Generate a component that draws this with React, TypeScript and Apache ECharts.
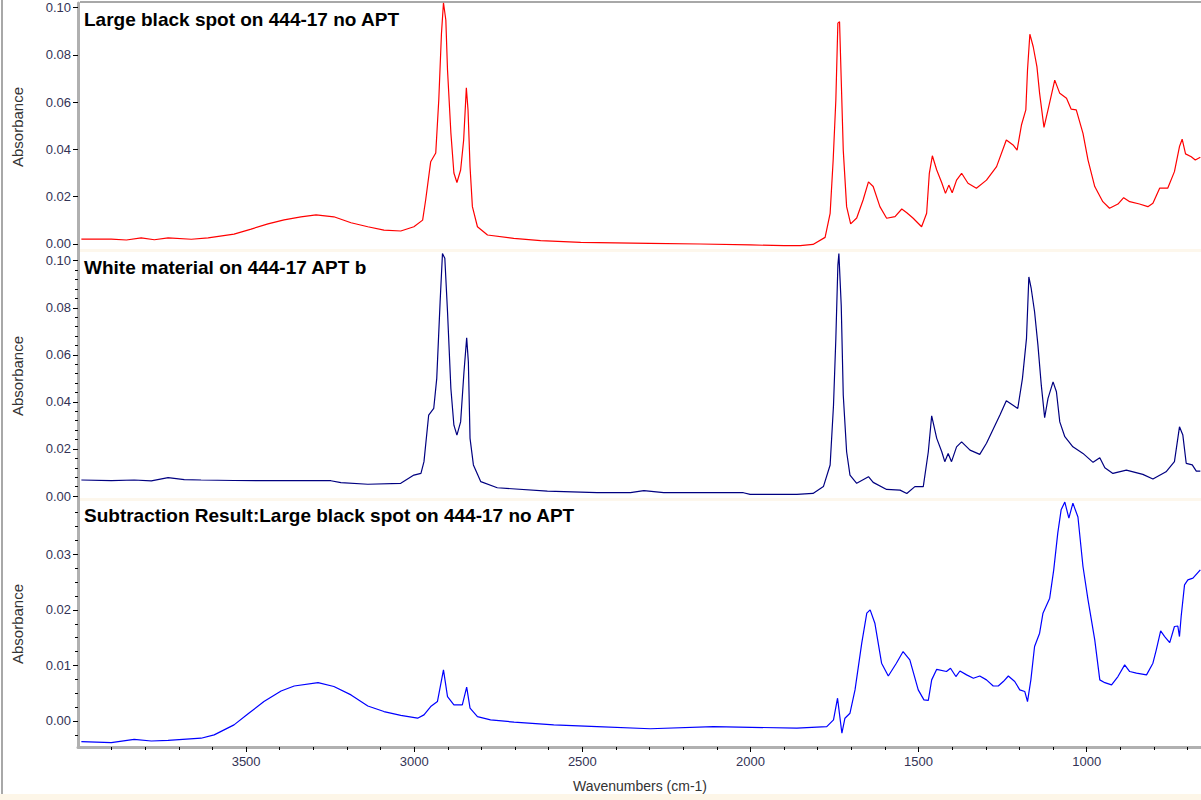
import React, { useEffect, useRef } from 'react';
import * as echarts from 'echarts';

// ---------- axis ranges / ticks ----------
const X_MIN = 660;
const X_MAX = 4000;
const X_MAJOR_TICKS = [3500, 3000, 2500, 2000, 1500, 1000];
const X_MINOR_TICKS = [3900, 3800, 3700, 3600, 3400, 3300, 3200, 3100, 2900, 2800, 2700, 2600, 2400, 2300, 2200, 2100, 1900, 1800, 1700, 1600, 1400, 1300, 1200, 1100, 900, 800, 700];

const Y1_RANGE = [-0.00296, 0.1019];
const Y2_RANGE = [-0.00127, 0.10412];
const Y3_RANGE = [-0.00468, 0.03995];
const Y12_MAJOR_TICKS = [0, 0.02, 0.04, 0.06, 0.08, 0.1];
const Y2_MINOR_TICKS = [0.004, 0.008, 0.012, 0.016, 0.024, 0.028, 0.032, 0.036, 0.044, 0.048, 0.052, 0.056, 0.064, 0.068, 0.072, 0.076, 0.084, 0.088, 0.092, 0.096];
const Y3_MAJOR_TICKS = [0, 0.01, 0.02, 0.03];
const Y3_MINOR_TICKS = [-0.0025, 0.0025, 0.005, 0.0075, 0.0125, 0.015, 0.0175, 0.0225, 0.025, 0.0275, 0.0325, 0.035, 0.0375];

// ---------- titles ----------
const TITLES = [
  'Large black spot on 444-17 no APT',
  'White material on 444-17 APT b',
  'Subtraction Result:Large black spot on 444-17 no APT',
];
const Y_NAME = 'Absorbance';
const X_NAME = 'Wavenumbers (cm-1)';

// ---------- spectrum 1 : Large black spot (red) ----------
const RED_WN = [3990, 3901, 3856, 3812, 3773, 3732, 3663, 3613, 3536, 3485, 3435, 3387, 3337, 3292, 3239, 3188, 3138, 3090, 3040, 3001, 2975, 2966, 2951, 2936, 2927, 2919, 2913, 2906, 2901, 2891, 2882, 2873, 2862, 2853, 2845, 2840, 2834, 2827, 2812, 2782, 2704, 2624, 2505, 2300, 2149, 2000, 1900, 1852, 1814, 1778, 1763, 1754, 1746, 1740, 1735, 1730, 1724, 1714, 1702, 1684, 1665, 1649, 1635, 1615, 1595, 1570, 1550, 1535, 1516, 1491, 1476, 1468, 1459, 1446, 1431, 1420, 1410, 1400, 1387, 1372, 1353, 1328, 1298, 1268, 1239, 1219, 1207, 1194, 1181, 1176, 1169, 1159, 1148, 1140, 1127, 1115, 1095, 1080, 1060, 1046, 1031, 1011, 996, 976, 952, 932, 907, 890, 872, 843, 818, 803, 783, 759, 739, 724, 716, 706, 689, 677, 662];
const RED_ABS = [0.0021, 0.0021, 0.0017, 0.0026, 0.0018, 0.0026, 0.002, 0.0026, 0.0042, 0.0063, 0.0085, 0.0102, 0.0115, 0.0123, 0.0115, 0.009, 0.0073, 0.0059, 0.0055, 0.0073, 0.0101, 0.0186, 0.0348, 0.0385, 0.0609, 0.089, 0.102, 0.0947, 0.0736, 0.047, 0.03, 0.026, 0.0313, 0.044, 0.066, 0.0567, 0.0327, 0.0158, 0.0073, 0.0038, 0.0024, 0.0014, 0.0007, 0.0003, 0.0, -0.0004, -0.0007, -0.0007, -0.0002, 0.0028, 0.013, 0.0355, 0.061, 0.0934, 0.094, 0.0693, 0.0397, 0.0158, 0.0085, 0.011, 0.0186, 0.0263, 0.0243, 0.0158, 0.0109, 0.0116, 0.0148, 0.0132, 0.0109, 0.0073, 0.013, 0.0299, 0.0373, 0.0313, 0.0259, 0.0214, 0.0249, 0.0217, 0.027, 0.0299, 0.0257, 0.0236, 0.027, 0.0327, 0.044, 0.0419, 0.0397, 0.0503, 0.0567, 0.0736, 0.0887, 0.0834, 0.075, 0.0637, 0.0493, 0.0567, 0.0693, 0.0637, 0.0616, 0.057, 0.0567, 0.0468, 0.0355, 0.0243, 0.0179, 0.0151, 0.0169, 0.0196, 0.0179, 0.0169, 0.0158, 0.0172, 0.0236, 0.0236, 0.0306, 0.0412, 0.0443, 0.0381, 0.0369, 0.0355, 0.0367];

// ---------- spectrum 2 : White material (navy) ----------
const NAVY_WN = [3990, 3901, 3833, 3782, 3732, 3684, 3634, 3536, 3435, 3337, 3248, 3218, 3138, 3040, 3001, 2980, 2971, 2957, 2942, 2933, 2923, 2916, 2909, 2901, 2891, 2882, 2873, 2862, 2852, 2844, 2839, 2834, 2824, 2802, 2753, 2604, 2456, 2357, 2317, 2258, 2110, 2021, 2001, 1862, 1814, 1783, 1763, 1753, 1746, 1740, 1737, 1730, 1724, 1714, 1704, 1684, 1649, 1635, 1595, 1555, 1535, 1511, 1486, 1471, 1461, 1446, 1431, 1422, 1412, 1402, 1387, 1372, 1347, 1318, 1298, 1258, 1239, 1219, 1205, 1191, 1179, 1172, 1165, 1155, 1145, 1135, 1125, 1115, 1100, 1090, 1080, 1065, 1041, 1011, 981, 961, 946, 922, 882, 833, 803, 764, 739, 724, 714, 704, 686, 674, 662];
const NAVY_ABS = [0.0068, 0.0065, 0.0068, 0.0064, 0.0078, 0.007, 0.0068, 0.0066, 0.0065, 0.0066, 0.0065, 0.0057, 0.005, 0.0054, 0.0089, 0.0096, 0.0146, 0.0344, 0.0372, 0.05, 0.0825, 0.103, 0.101, 0.0783, 0.0457, 0.0301, 0.0259, 0.0315, 0.0528, 0.0672, 0.057, 0.0245, 0.0132, 0.0061, 0.0035, 0.0021, 0.0014, 0.0014, 0.0023, 0.0014, 0.0014, 0.0014, 0.0007, 0.0007, 0.0011, 0.004, 0.0132, 0.0386, 0.067, 0.098, 0.103, 0.081, 0.0429, 0.0188, 0.0089, 0.0054, 0.0082, 0.0058, 0.0028, 0.0025, 0.0011, 0.004, 0.004, 0.0188, 0.0341, 0.0245, 0.0188, 0.0146, 0.0181, 0.0146, 0.0209, 0.023, 0.0195, 0.0177, 0.0224, 0.0344, 0.0405, 0.0386, 0.0372, 0.05, 0.067, 0.0931, 0.0882, 0.0783, 0.0641, 0.0471, 0.0333, 0.0415, 0.0485, 0.0443, 0.0315, 0.0252, 0.0209, 0.0181, 0.0143, 0.0163, 0.012, 0.0096, 0.011, 0.0092, 0.0072, 0.0103, 0.0146, 0.0294, 0.0259, 0.0139, 0.0132, 0.0106, 0.0106];

// ---------- spectrum 3 : Subtraction result (blue) ----------
const BLUE_WN = [3990, 3901, 3833, 3782, 3732, 3634, 3595, 3536, 3494, 3447, 3396, 3357, 3286, 3239, 3188, 3138, 3090, 3040, 2990, 2971, 2951, 2931, 2913, 2901, 2882, 2857, 2844, 2834, 2812, 2773, 2703, 2585, 2456, 2298, 2110, 1862, 1773, 1753, 1741, 1733, 1728, 1719, 1704, 1689, 1669, 1654, 1644, 1630, 1610, 1590, 1566, 1546, 1526, 1501, 1484, 1471, 1461, 1446, 1417, 1405, 1389, 1377, 1357, 1337, 1318, 1298, 1278, 1263, 1248, 1233, 1214, 1199, 1184, 1176, 1166, 1155, 1140, 1130, 1110, 1098, 1086, 1076, 1065, 1053, 1041, 1026, 1011, 996, 976, 961, 946, 926, 907, 887, 872, 852, 822, 803, 793, 780, 768, 753, 739, 729, 724, 719, 709, 699, 684, 662];
const BLUE_ABS = [-0.0037, -0.0039, -0.0033, -0.0036, -0.0035, -0.0031, -0.0025, -0.0007, 0.0013, 0.0035, 0.0054, 0.0063, 0.0069, 0.0062, 0.0047, 0.0027, 0.0017, 0.001, 0.0005, 0.0011, 0.0026, 0.0035, 0.0092, 0.0044, 0.0029, 0.0029, 0.0061, 0.0023, 0.0008, 0.0002, -0.0002, -0.0007, -0.001, -0.0014, -0.001, -0.0013, -0.001, 0.0002, 0.0041, 0.0002, -0.0022, 0.0005, 0.0014, 0.0056, 0.014, 0.0194, 0.02, 0.0176, 0.0104, 0.0081, 0.0104, 0.0125, 0.011, 0.0056, 0.0038, 0.0037, 0.0074, 0.0093, 0.0089, 0.0095, 0.008, 0.009, 0.0083, 0.0077, 0.0081, 0.0074, 0.0063, 0.0063, 0.0071, 0.0081, 0.0071, 0.0056, 0.0053, 0.0035, 0.0074, 0.0134, 0.0158, 0.0194, 0.0221, 0.0272, 0.0338, 0.038, 0.0394, 0.0365, 0.0392, 0.0367, 0.0278, 0.0218, 0.0146, 0.0074, 0.0069, 0.0065, 0.008, 0.0101, 0.0089, 0.0086, 0.0083, 0.0104, 0.0128, 0.0162, 0.0152, 0.0141, 0.017, 0.0171, 0.0152, 0.0188, 0.0245, 0.0254, 0.0257, 0.0272];

const FONT = '"Liberation Sans", Arial, Helvetica, sans-serif';
const TICK_COLOR = '#333355';
const AXIS_LINE = '#b0b0b0';

const zip = (xs: number[], ys: number[]) => xs.map((x, i) => [x, ys[i]]);

const GRID_LEFT = 78;
const GRID_W = 1123;
const GRID_H = 248;
const GRID_TOPS = [3, 251, 499];

function xAxisBase(gridIndex: number) {
  return {
    type: 'value',
    gridIndex,
    min: X_MIN,
    max: X_MAX,
    inverse: true,
    position: 'bottom',
    offset: 0,
    splitLine: { show: false },
  };
}

function yMain(gridIndex: number, range: number[], ticks: number[]) {
  return {
    type: 'value',
    gridIndex,
    min: range[0],
    max: range[1],
    position: 'left',
    offset: 0,
    axisLine: { show: true, onZero: false, lineStyle: { color: AXIS_LINE, width: 3 } },
    axisTick: { show: true, customValues: ticks, length: 5, lineStyle: { color: '#000', width: 1 } },
    axisLabel: {
      show: true,
      customValues: ticks,
      formatter: (v: number) => v.toFixed(2),
      color: TICK_COLOR,
      fontSize: 13,
      fontFamily: FONT,
      margin: 7,
    },
    splitLine: { show: false },
  };
}

function yMinor(gridIndex: number, range: number[], ticks: number[]) {
  return {
    type: 'value',
    gridIndex,
    min: range[0],
    max: range[1],
    position: 'left',
    offset: 0,
    z: 5,
    axisLine: { show: false, onZero: false },
    axisTick: { show: true, customValues: ticks, length: 3, lineStyle: { color: '#000', width: 1 } },
    axisLabel: { show: false },
    splitLine: { show: false },
  };
}

export default function App() {
  const ref = useRef<HTMLDivElement>(null);

  useEffect(() => {
    if (!ref.current) return;
    const chart = echarts.init(ref.current, undefined, { renderer: 'svg' });

    const titleFont = `bold 19px ${FONT}`;
    const titleY = [19.5, 267, 515];
    const absY = [127, 376, 624];

    const graphic: any[] = [
      // frame lines
      { type: 'rect', shape: { x: 1, y: 0, width: 2, height: 794 }, style: { fill: '#a8a8a8' }, z: 1 },
      { type: 'rect', shape: { x: 80, y: 1, width: 1121, height: 2 }, style: { fill: '#a8a8a8' }, z: 1 },
      { type: 'rect', shape: { x: 80, y: 249, width: 1121, height: 3 }, style: { fill: '#fdf7ec' }, z: 0 },
      { type: 'rect', shape: { x: 80, y: 498, width: 1121, height: 3 }, style: { fill: '#fdf7ec' }, z: 0 },
      { type: 'rect', shape: { x: 0, y: 794, width: 1201, height: 6 }, style: { fill: '#fdf6e8' }, z: 0 },
    ];
    TITLES.forEach((t, i) => {
      graphic.push({
        type: 'text',
        x: 84,
        y: titleY[i],
        z: 10,
        style: { text: t, font: titleFont, fill: '#000', verticalAlign: 'middle', align: 'left' },
      });
      graphic.push({
        type: 'text',
        x: 17,
        y: absY[i],
        rotation: Math.PI / 2,
        z: 10,
        style: { text: Y_NAME, font: `15px ${FONT}`, fill: '#333', verticalAlign: 'middle', align: 'center' },
      });
    });
    graphic.push({
      type: 'text',
      x: 640,
      y: 786,
      z: 10,
      style: { text: X_NAME, font: `14px ${FONT}`, fill: '#333', verticalAlign: 'middle', align: 'center' },
    });

    const option: any = {
      animation: false,
      backgroundColor: '#ffffff',
      grid: GRID_TOPS.map((top) => ({ left: GRID_LEFT, top, width: GRID_W, height: GRID_H, containLabel: false })),
      xAxis: [
        { ...xAxisBase(0), show: false },
        { ...xAxisBase(1), show: false },
        {
          ...xAxisBase(2),
          axisLine: { show: true, onZero: false, lineStyle: { color: AXIS_LINE, width: 3 } },
          axisTick: { show: true, customValues: X_MAJOR_TICKS, length: 5, lineStyle: { color: '#000', width: 1 } },
          axisLabel: {
            show: true,
            customValues: X_MAJOR_TICKS,
            formatter: (v: number) => String(Math.round(v)),
            color: TICK_COLOR,
            fontSize: 13,
            fontFamily: FONT,
            margin: 8,
          },
        },
        {
          ...xAxisBase(2),
          z: 5,
          axisLine: { show: false, onZero: false },
          axisTick: { show: true, customValues: X_MINOR_TICKS, length: 3, lineStyle: { color: '#000', width: 1 } },
          axisLabel: { show: false },
        },
      ],
      yAxis: [
        yMain(0, Y1_RANGE, Y12_MAJOR_TICKS),
        yMain(1, Y2_RANGE, Y12_MAJOR_TICKS),
        yMinor(1, Y2_RANGE, Y2_MINOR_TICKS),
        yMain(2, Y3_RANGE, Y3_MAJOR_TICKS),
        yMinor(2, Y3_RANGE, Y3_MINOR_TICKS),
      ],
      series: [
        {
          type: 'line',
          name: TITLES[0],
          xAxisIndex: 0,
          yAxisIndex: 0,
          data: zip(RED_WN, RED_ABS),
          showSymbol: false,
          silent: true,
          lineStyle: { color: '#ff0000', width: 1.2 },
          itemStyle: { color: '#ff0000' },
        },
        {
          type: 'line',
          name: TITLES[1],
          xAxisIndex: 1,
          yAxisIndex: 1,
          data: zip(NAVY_WN, NAVY_ABS),
          showSymbol: false,
          silent: true,
          lineStyle: { color: '#000080', width: 1.2 },
          itemStyle: { color: '#000080' },
        },
        {
          type: 'line',
          name: TITLES[2],
          xAxisIndex: 2,
          yAxisIndex: 3,
          data: zip(BLUE_WN, BLUE_ABS),
          showSymbol: false,
          silent: true,
          lineStyle: { color: '#0000ff', width: 1.2 },
          itemStyle: { color: '#0000ff' },
        },
      ],
      graphic,
    };

    chart.setOption(option);
    return () => chart.dispose();
  }, []);

  return (
    <div
      ref={ref}
      style={{ position: 'fixed', left: 0, top: 0, width: 1201, height: 800, background: '#ffffff' }}
    />
  );
}
